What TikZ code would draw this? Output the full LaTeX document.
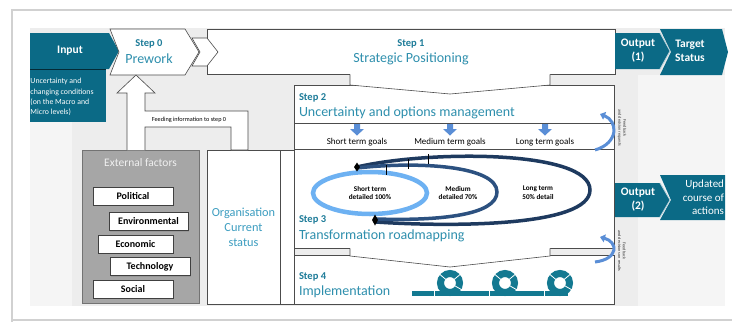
\documentclass[tikz,border=0pt]{standalone}
\usepackage{fontspec}
\setmainfont{Carlito}
\usetikzlibrary{arrows.meta,shapes.geometric,shadows}

\definecolor{tealbox}{HTML}{0B6A86}
\definecolor{tealtext}{HTML}{2E8FAD}
\definecolor{steptext}{HTML}{1E7C99}
\definecolor{orgtext}{HTML}{3C9DC0}
\definecolor{bggrey}{HTML}{EDEDED}
\definecolor{bglight}{HTML}{F5F5F5}
\definecolor{factorgrey}{HTML}{A6A6A6}
\definecolor{goalblue}{HTML}{5A8ED6}
\definecolor{shortblue}{HTML}{6DB1F2}
\definecolor{midnavy}{HTML}{2C5180}
\definecolor{longnavy}{HTML}{1E3A5F}
\definecolor{loopteal}{HTML}{137991}

\begin{document}
\begin{tikzpicture}[x=1pt,y=-1pt,
  every node/.style={inner sep=0pt,outer sep=0pt}
]

\tikzstyle{panel}=[draw=black!70,line width=0.6pt,fill=white]
\tikzstyle{stepno}=[text=steptext,font=\fontsize{10.5}{11}\selectfont\bfseries,anchor=west]
\tikzstyle{steptitle}=[text=tealtext,font=\fontsize{14}{15}\selectfont,anchor=west]
\tikzstyle{whitebold}=[text=white,font=\fontsize{11.5}{14}\selectfont\bfseries,align=center]
\tikzstyle{factor}=[draw=black!75,fill=white,minimum width=80pt,minimum height=18pt,
  font=\fontsize{10}{11}\selectfont\bfseries,
  drop shadow={opacity=0.35,shadow xshift=1pt,shadow yshift=-1pt}]
\tikzstyle{goal}=[font=\fontsize{9}{10}\selectfont]
\tikzstyle{horizon}=[font=\fontsize{7.2}{9}\selectfont\bfseries,align=center]
\tikzstyle{feedback}=[font=\fontsize{4.2}{4.8}\selectfont,align=center,rotate=-90,text=black!80]

\useasboundingbox (0,0) rectangle (732,322);
\fill[white] (0,0) rectangle (732,322);
\draw[black!18,line width=1.5pt] (732,10) -- (12,10) -- (12,322);
\draw[black!18,line width=1.5pt] (12,320) -- (732,320);

% background
\fill[bggrey] (30,28) rectangle (725,306);
\fill[bglight] (30,122) rectangle (72,306);
\fill[bglight] (638,75) rectangle (725,306);

% input side
\fill[tealbox] (30,33) -- (109,33) -- (119,51) -- (109,69) -- (30,69) -- cycle;
\fill[tealbox] (30,69) rectangle (106,122);
\draw[black!60!tealbox,line width=0.8pt] (30,69) -- (106,69);
\node[whitebold] (input) at (70,51) {Input};
\node[text=white,font=\fontsize{7.8}{10.2}\selectfont,anchor=north west,align=left]
  (conditions) at (30.5,78.5) {Uncertainty and\\changing conditions\\(on the Macro and\\Micro levels)};

% step 1
\draw[panel] (207,29) rectangle (615,74);
\node[stepno,anchor=center] (s1no) at (411,44) {Step 1};
\node[steptitle,anchor=center] (s1title) at (411,59) {Strategic Positioning};

% step 0 and small chevron
\draw[panel] (110,29) -- (185,29) -- (199,52) -- (185,75) -- (110,75) -- (119,52) -- cycle;
\node[stepno,anchor=center] (s0no) at (149,43.5) {Step 0};
\node[steptitle,anchor=center] (s0title) at (149,59) {Prework};
\draw[panel] (192,38) -- (207,38) -- (218,52) -- (207,66) -- (192,66) -- (200,52) -- cycle;

% outputs
\fill[tealbox] (660,29) -- (722,29) -- (728,52) -- (722,75) -- (660,75) -- (671,52) -- cycle;
\fill[tealbox] (615,33) -- (660,33) -- (670,51) -- (660,69) -- (615,69) -- cycle;
\draw[white!70!tealbox,line width=0.8pt] (660,33) -- (670,51) -- (660,69);
\node[whitebold] (out1) at (638,51) {Output\\(1)};
\node[whitebold] (target) at (690,51) {Target\\Status};

\fill[tealbox] (660,175) -- (725,175) -- (725,220) -- (660,220) -- (671,200) -- cycle;
\fill[tealbox] (615,183) -- (660,183) -- (670,200) -- (660,217) -- (615,217) -- cycle;
\draw[white!70!tealbox,line width=0.8pt] (660,183) -- (670,200) -- (660,217);
\node[whitebold] (out2) at (638,200) {Output\\(2)};
\node[text=white,font=\fontsize{11}{13.5}\selectfont,align=right,anchor=east]
  (updated) at (724,197.5) {Updated\\course of\\actions};

% step 2
\draw[panel] (294,85) rectangle (614,149);
\draw[black!70,line width=0.6pt] (294,123) -- (614,123);
\fill[white] (350,74) -- (350,85) -- (450,94) -- (550,85) -- (550,74) -- cycle;
\draw[black!70,line width=0.6pt] (350,74.3) -- (350,85) -- (450,94) -- (550,85) -- (550,74.3);
\node[stepno] (s2no) at (299,98) {Step 2};
\node[steptitle] (s2title) at (299,113) {Uncertainty and options management};
\foreach \gx/\gname/\gtext in {357/short/Short term goals,450/medium/Medium term goals,545/long/Long term goals} {
  \fill[goalblue] (\gx-3,124) -- (\gx+3,124) -- (\gx+3,129) -- (\gx+7,129) -- (\gx,135.5)
    -- (\gx-7,129) -- (\gx-3,129) -- cycle;
  \node[goal] (goal\gname) at (\gx,142) {\gtext};
}

% organisation
\draw[panel] (207,150) rectangle (294,304);
\draw[black!70,line width=0.6pt] (280,150) -- (280,304);
\node[text=orgtext,font=\fontsize{12.3}{14.8}\selectfont,align=center] (org) at (243.5,227.5)
  {Organisation\\Current\\status};

% step 3
\draw[panel] (294,149) rectangle (614,248);
\draw[longnavy,line width=3.5pt] (357,167) .. controls (430,150) and (590,150) .. (590,190)
  .. controls (590,227) and (450,227) .. (376,222);
\draw[midnavy,line width=3.5pt] (357,168) .. controls (420,161) and (497,166) .. (497,192)
  .. controls (497,215) and (440,221) .. (376,219);
\draw[shortblue,line width=4.5pt] (370,193) ellipse[x radius=57,y radius=21];
\foreach \tx/\ty in {386/170,408/164,428/159} {
  \draw[black,line width=1pt] (\tx,\ty-5) -- (\tx,\ty+5);
}
\node[diamond,fill=black,minimum width=6pt,minimum height=9pt] (startmark) at (357,167) {};
\node[diamond,fill=black,minimum width=6pt,minimum height=11pt] (nowmark) at (375,220) {};
\node[horizon] (shortterm) at (370,193) {Short term\\detailed 100\%};
\node[horizon] (midterm) at (458,193) {Medium\\detailed 70\%};
\node[horizon] (longterm) at (538,193) {Long term\\50\% detail};
\node[stepno] (s3no) at (299,220) {Step 3};
\node[steptitle] (s3title) at (299,236) {Transformation roadmapping};

% step 4
\draw[panel] (294,255) rectangle (614,304);
\fill[white] (350,248) -- (350,256) -- (450,267) -- (550,256) -- (550,248) -- cycle;
\draw[black!70,line width=0.6pt] (350,248.3) -- (350,256) -- (450,267) -- (550,256) -- (550,248.3);
\node[stepno] (s4no) at (299,277) {Step 4};
\node[steptitle] (s4title) at (299,292) {Implementation};
\draw[loopteal,line width=5.5pt] (412,293.5) -- (568,293.5);
\foreach \cx in {450,505,560} {
  \draw[loopteal,line width=7pt] (\cx,283) circle[radius=9.5];
  \draw[white,line width=0.8pt] (\cx-4,279.6) -- (\cx-11,273.7);
  \draw[white,line width=0.8pt] (\cx+4,279.6) -- (\cx+11,273.7);
  \draw[white,line width=0.8pt] (\cx+4.5,285.6) -- (\cx+12.5,290.2);
  \draw[white,line width=0.8pt] (\cx-16,290.5) -- (\cx-16,296.5);
}

% external factors
\draw[draw=black!55,fill=factorgrey] (82,150) rectangle (199,303);
\node[text=black!6,font=\fontsize{11.5}{12}\selectfont] (external) at (140.5,163) {External factors};
\node[factor] (political) at (133,196) {Political};
\node[factor,minimum width=79pt] (environmental) at (148.5,221.5) {Environmental};
\node[factor,minimum width=75pt] (economic) at (135.5,244) {Economic};
\node[factor] (technology) at (150,266.5) {Technology};
\node[factor] (social) at (133,289) {Social};

% feeding information back to step 0
\draw[panel] (127,150) -- (127,93) -- (117,93) -- (136,75) -- (155,93) -- (145,93) -- (145,111)
  -- (248,111) -- (248,150) -- (231,150) -- (231,127) -- (145,127) -- (145,150);
\node[font=\fontsize{6.2}{7}\selectfont] (feeding) at (189,119.5) {Feeding information to step 0};

% feedback loops
\draw[goalblue,line width=3pt,-{Triangle[width=8pt,length=5pt]}]
  (595,150) .. controls (619,143) and (618,121) .. (600,114);
\draw[goalblue,line width=3pt,-{Triangle[width=8pt,length=5pt]}]
  (595,262) .. controls (619,259) and (618,242) .. (600,237);
\node[feedback] (fb1) at (622,128) {Feedback\\and decision requests};
\node[feedback] (fb2) at (622,251) {Feedback\\and decisions on results};
\end{tikzpicture}
\end{document}
